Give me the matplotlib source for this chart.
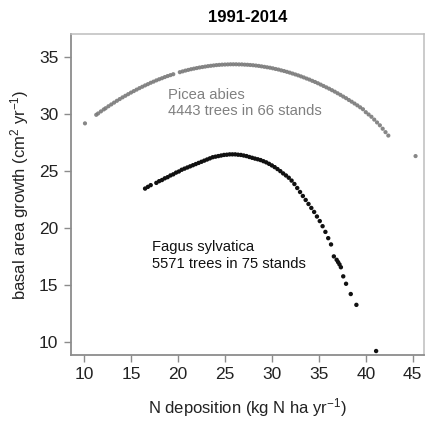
import matplotlib
matplotlib.use("Agg")
from matplotlib import pyplot as plt

plt.rcParams['font.family'] = ['Liberation Sans', 'DejaVu Sans']
plt.rcParams['mathtext.fontset'] = 'custom'
plt.rcParams['mathtext.rm'] = 'Liberation Sans'
plt.rcParams['mathtext.it'] = 'Liberation Sans:italic'
plt.rcParams['mathtext.bf'] = 'Liberation Sans:bold'

# Picea abies (grey points)
picea_x = [10.1, 11.3, 11.5, 11.8, 12.1, 12.3, 12.6, 12.9, 13.2, 13.5, 13.8, 14.1,
           14.4, 14.7, 15.0, 15.3, 15.6, 15.9, 16.2, 16.5, 16.8, 17.1, 17.4, 17.7,
           18.0, 18.3, 18.6, 18.9, 19.2, 19.5, 20.2, 20.5, 20.8, 21.1, 21.4, 21.7,
           22.0, 22.3, 22.6, 22.9, 23.2, 23.5, 23.8, 24.1, 24.4, 24.7, 25.0, 25.3,
           25.6, 25.9, 26.2, 26.5, 26.8, 27.1, 27.4, 27.7, 28.0, 28.3, 28.6, 28.9,
           29.2, 29.5, 29.8, 30.1, 30.4, 30.7, 31.0, 31.3, 31.6, 31.9, 32.2, 32.5,
           32.8, 33.1, 33.4, 33.7, 34.0, 34.3, 34.6, 34.9, 35.2, 35.5, 35.8, 36.1,
           36.4, 36.7, 37.0, 37.3, 37.6, 37.9, 38.2, 38.5, 38.8, 39.1, 39.4, 39.7,
           40.0, 40.3, 40.6, 40.9, 41.2, 41.5, 41.8, 42.1, 42.4, 45.3]
picea_y = [29.17, 29.92, 30.04, 30.22, 30.39, 30.50, 30.67, 30.83, 30.99, 31.15, 31.30, 31.45,
           31.59, 31.73, 31.87, 32.00, 32.13, 32.26, 32.38, 32.50, 32.61, 32.73, 32.83, 32.94,
           33.04, 33.13, 33.23, 33.32, 33.40, 33.48, 33.66, 33.73, 33.80, 33.86, 33.92, 33.97,
           34.02, 34.07, 34.11, 34.15, 34.19, 34.22, 34.25, 34.28, 34.30, 34.32, 34.33, 34.34,
           34.35, 34.35, 34.35, 34.34, 34.34, 34.32, 34.31, 34.29, 34.27, 34.24, 34.21, 34.17,
           34.13, 34.09, 34.05, 34.00, 33.94, 33.89, 33.82, 33.76, 33.69, 33.62, 33.54, 33.46,
           33.38, 33.29, 33.20, 33.10, 33.01, 32.90, 32.80, 32.69, 32.57, 32.45, 32.33, 32.21,
           32.08, 31.95, 31.81, 31.67, 31.52, 31.38, 31.22, 31.07, 30.91, 30.75, 30.58, 30.41,
           30.15, 29.95, 29.75, 29.50, 29.25, 29.00, 28.70, 28.40, 28.10, 26.30]

# Fagus sylvatica (black points)
fagus_x = [16.5, 16.8, 17.1, 17.7, 18.0, 18.3, 18.6, 18.9, 19.2, 19.5, 19.8, 20.1,
           20.4, 20.7, 21.0, 21.3, 21.6, 21.9, 22.2, 22.5, 22.8, 23.1, 23.4, 23.7,
           24.0, 24.3, 24.6, 24.9, 25.2, 25.5, 25.8, 26.1, 26.4, 26.7, 27.0, 27.3,
           27.6, 27.9, 28.2, 28.5, 28.8, 29.1, 29.4, 29.7, 30.0, 30.3, 30.6, 30.9,
           31.2, 31.5, 31.8, 32.1, 32.4, 32.7, 33.0, 33.3, 33.6, 33.9, 34.2, 34.5,
           34.8, 35.1, 35.4, 35.7, 36.0, 36.3, 36.6, 36.9, 37.05, 37.2, 37.35, 37.6,
           37.9, 38.4, 39.0, 41.1]
fagus_y = [23.45, 23.60, 23.75, 23.95, 24.10, 24.20, 24.35, 24.45, 24.60, 24.70, 24.85, 24.95,
           25.10, 25.20, 25.30, 25.40, 25.50, 25.60, 25.70, 25.80, 25.90, 26.00, 26.10, 26.20,
           26.25, 26.30, 26.35, 26.40, 26.42, 26.45, 26.45, 26.45, 26.42, 26.40, 26.35, 26.30,
           26.22, 26.15, 26.08, 26.02, 25.95, 25.85, 25.75, 25.62, 25.48, 25.33, 25.16, 24.98,
           24.78, 24.60, 24.40, 24.15, 23.85, 23.50, 23.15, 22.80, 22.45, 22.10, 21.75, 21.40,
           21.00, 20.60, 20.15, 19.65, 19.10, 18.55, 17.50, 17.20, 17.00, 16.80, 16.55, 15.75,
           15.10, 14.20, 13.25, 9.20]

x_ticks = [10, 15, 20, 25, 30, 35, 40, 45]
y_ticks = [10, 15, 20, 25, 30, 35]

fig = plt.figure(figsize=(4.27, 4.21), dpi=100)
ax = fig.add_axes([0.166, 0.157, 0.827, 0.762])

ax.scatter(picea_x, picea_y, s=9, color='#7a7a7a', edgecolors='none', alpha=0.9)
ax.scatter(fagus_x, fagus_y, s=10, color='#111111', edgecolors='none')

ax.set_xlim(8.6, 46.2)
ax.set_ylim(8.86, 37.0)
ax.set_xticks(x_ticks)
ax.set_yticks(y_ticks)

for side in ['left', 'bottom']:
    ax.spines[side].set_color('#8c8c8c')
    ax.spines[side].set_linewidth(1.3)
for side in ['top', 'right']:
    ax.spines[side].set_color('#bdbdbd')
    ax.spines[side].set_linewidth(1.1)

ax.tick_params(direction='out', length=5, width=1, color='#8c8c8c',
               labelsize=12.5, labelcolor='#222222', pad=4)

ax.set_xlabel('N deposition (kg N ha yr$^{-1}$)', fontsize=12, color='#222222', labelpad=10)
ax.set_ylabel('basal area growth (cm$^{2}$ yr$^{-1}$)', fontsize=12, color='#222222', labelpad=6)
ax.set_title('1991-2014', fontsize=12, fontweight='bold', pad=9)

ax.text(18.9, 32.3, 'Picea abies\n4443 trees in 66 stands', color='#808080',
        fontsize=10.6, va='top', ha='left', linespacing=1.25)
ax.text(17.2, 18.95, 'Fagus sylvatica\n5571 trees in 75 stands', color='#111111',
        fontsize=10.6, va='top', ha='left', linespacing=1.25)

fig.savefig('out.png', dpi=100)
